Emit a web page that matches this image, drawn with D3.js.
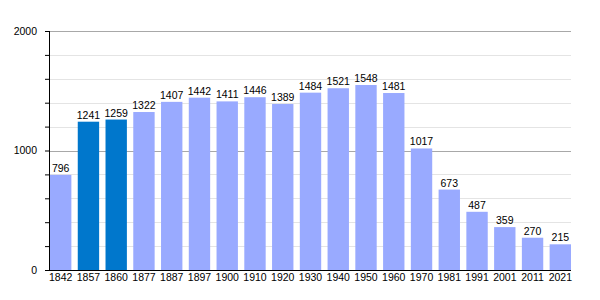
<!DOCTYPE html>
<html>
<head>
<meta charset="utf-8">
<script src="https://cdn.jsdelivr.net/npm/d3@7"></script>
<style>
  body { margin: 0; background: #fff; }
  text { font-family: "Liberation Sans", Arial, sans-serif; }
</style>
</head>
<body>
<div class="chart"></div>
<script>
// census years and population
const years = ["1842", "1857", "1860", "1877", "1887", "1897", "1900", "1910", "1920", "1930",
               "1940", "1950", "1960", "1970", "1981", "1991", "2001", "2011", "2021"];
const population = [796, 1241, 1259, 1322, 1407, 1442, 1411, 1446, 1389, 1484,
                    1521, 1548, 1481, 1017, 673, 487, 359, 270, 215];
// years drawn in the darker colour
const highlighted = ["1857", "1860"];
const majorTicks = [0, 1000, 2000];

const width = 600, height = 300;
const plotLeft = 50, plotRight = 571, plotTop = 31, plotBottom = 270;

const svg = d3.select(".chart").append("svg")
    .attr("width", width)
    .attr("height", height);

const x = d3.scaleBand()
    .domain(years)
    .range([plotLeft, plotRight])
    .paddingInner(0.23)
    .paddingOuter(0);

const y = d3.scaleLinear()
    .domain([0, 2000])
    .range([plotBottom, plotTop]);

// minor grid every 200
const minor = d3.range(200, 2000, 200).filter(v => v % 1000 != 0);
svg.selectAll("line.minor")
    .data(minor)
  .enter().append("line")
    .attr("x1", plotLeft).attr("x2", plotRight)
    .attr("y1", d => Math.round(y(d)) + 0.5).attr("y2", d => Math.round(y(d)) + 0.5)
    .attr("stroke", "#e4e4e4")
    .attr("stroke-width", 1);

svg.selectAll("line.major")
    .data(majorTicks.filter(d => d > 0))
  .enter().append("line")
    .attr("x1", plotLeft).attr("x2", plotRight)
    .attr("y1", d => Math.round(y(d)) + 0.5).attr("y2", d => Math.round(y(d)) + 0.5)
    .attr("stroke", "#a8a8a8")
    .attr("stroke-width", 1);

svg.selectAll("rect")
    .data(population)
  .enter().append("rect")
    .attr("x", (d, i) => x(years[i]))
    .attr("y", d => y(d))
    .attr("width", x.bandwidth())
    .attr("height", d => y(0) - y(d))
    .attr("fill", (d, i) => highlighted.includes(years[i]) ? "#0077cc" : "#99aaff");

svg.selectAll("text.val")
    .data(population)
  .enter().append("text")
    .attr("x", (d, i) => x(years[i]) + x.bandwidth() / 2)
    .attr("y", d => y(d) - 3)
    .attr("text-anchor", "middle")
    .attr("font-size", 10.5)
    .attr("fill", "#000")
    .text(d => d);

// left axis with minor ticks
const yAxis = svg.append("g")
    .attr("transform", `translate(${plotLeft},0)`)
    .call(d3.axisLeft(y).tickValues(d3.range(0, 2001, 200)).tickSize(5).tickFormat(""));
yAxis.select(".domain").attr("stroke", "#000").attr("d", `M-0.5,${plotTop}V${plotBottom}`);
yAxis.selectAll(".tick line").attr("stroke", "#000");

svg.selectAll("text.ylab")
    .data(majorTicks)
  .enter().append("text")
    .attr("x", 37)
    .attr("y", d => y(d) + 3.5)
    .attr("text-anchor", "end")
    .attr("font-size", 10.5)
    .text(d => d);

// bottom axis
const xAxis = svg.append("g")
    .attr("transform", `translate(0,${plotBottom})`)
    .call(d3.axisBottom(x).tickSize(0).tickPadding(4));
xAxis.select(".domain").attr("stroke", "#000").attr("d", `M45,0.5H${plotRight}`);
xAxis.selectAll("text")
    .attr("font-size", 10.5)
    .attr("font-family", "Liberation Sans, Arial, sans-serif")
    .attr("fill", "#000");
</script>
</body>
</html>
